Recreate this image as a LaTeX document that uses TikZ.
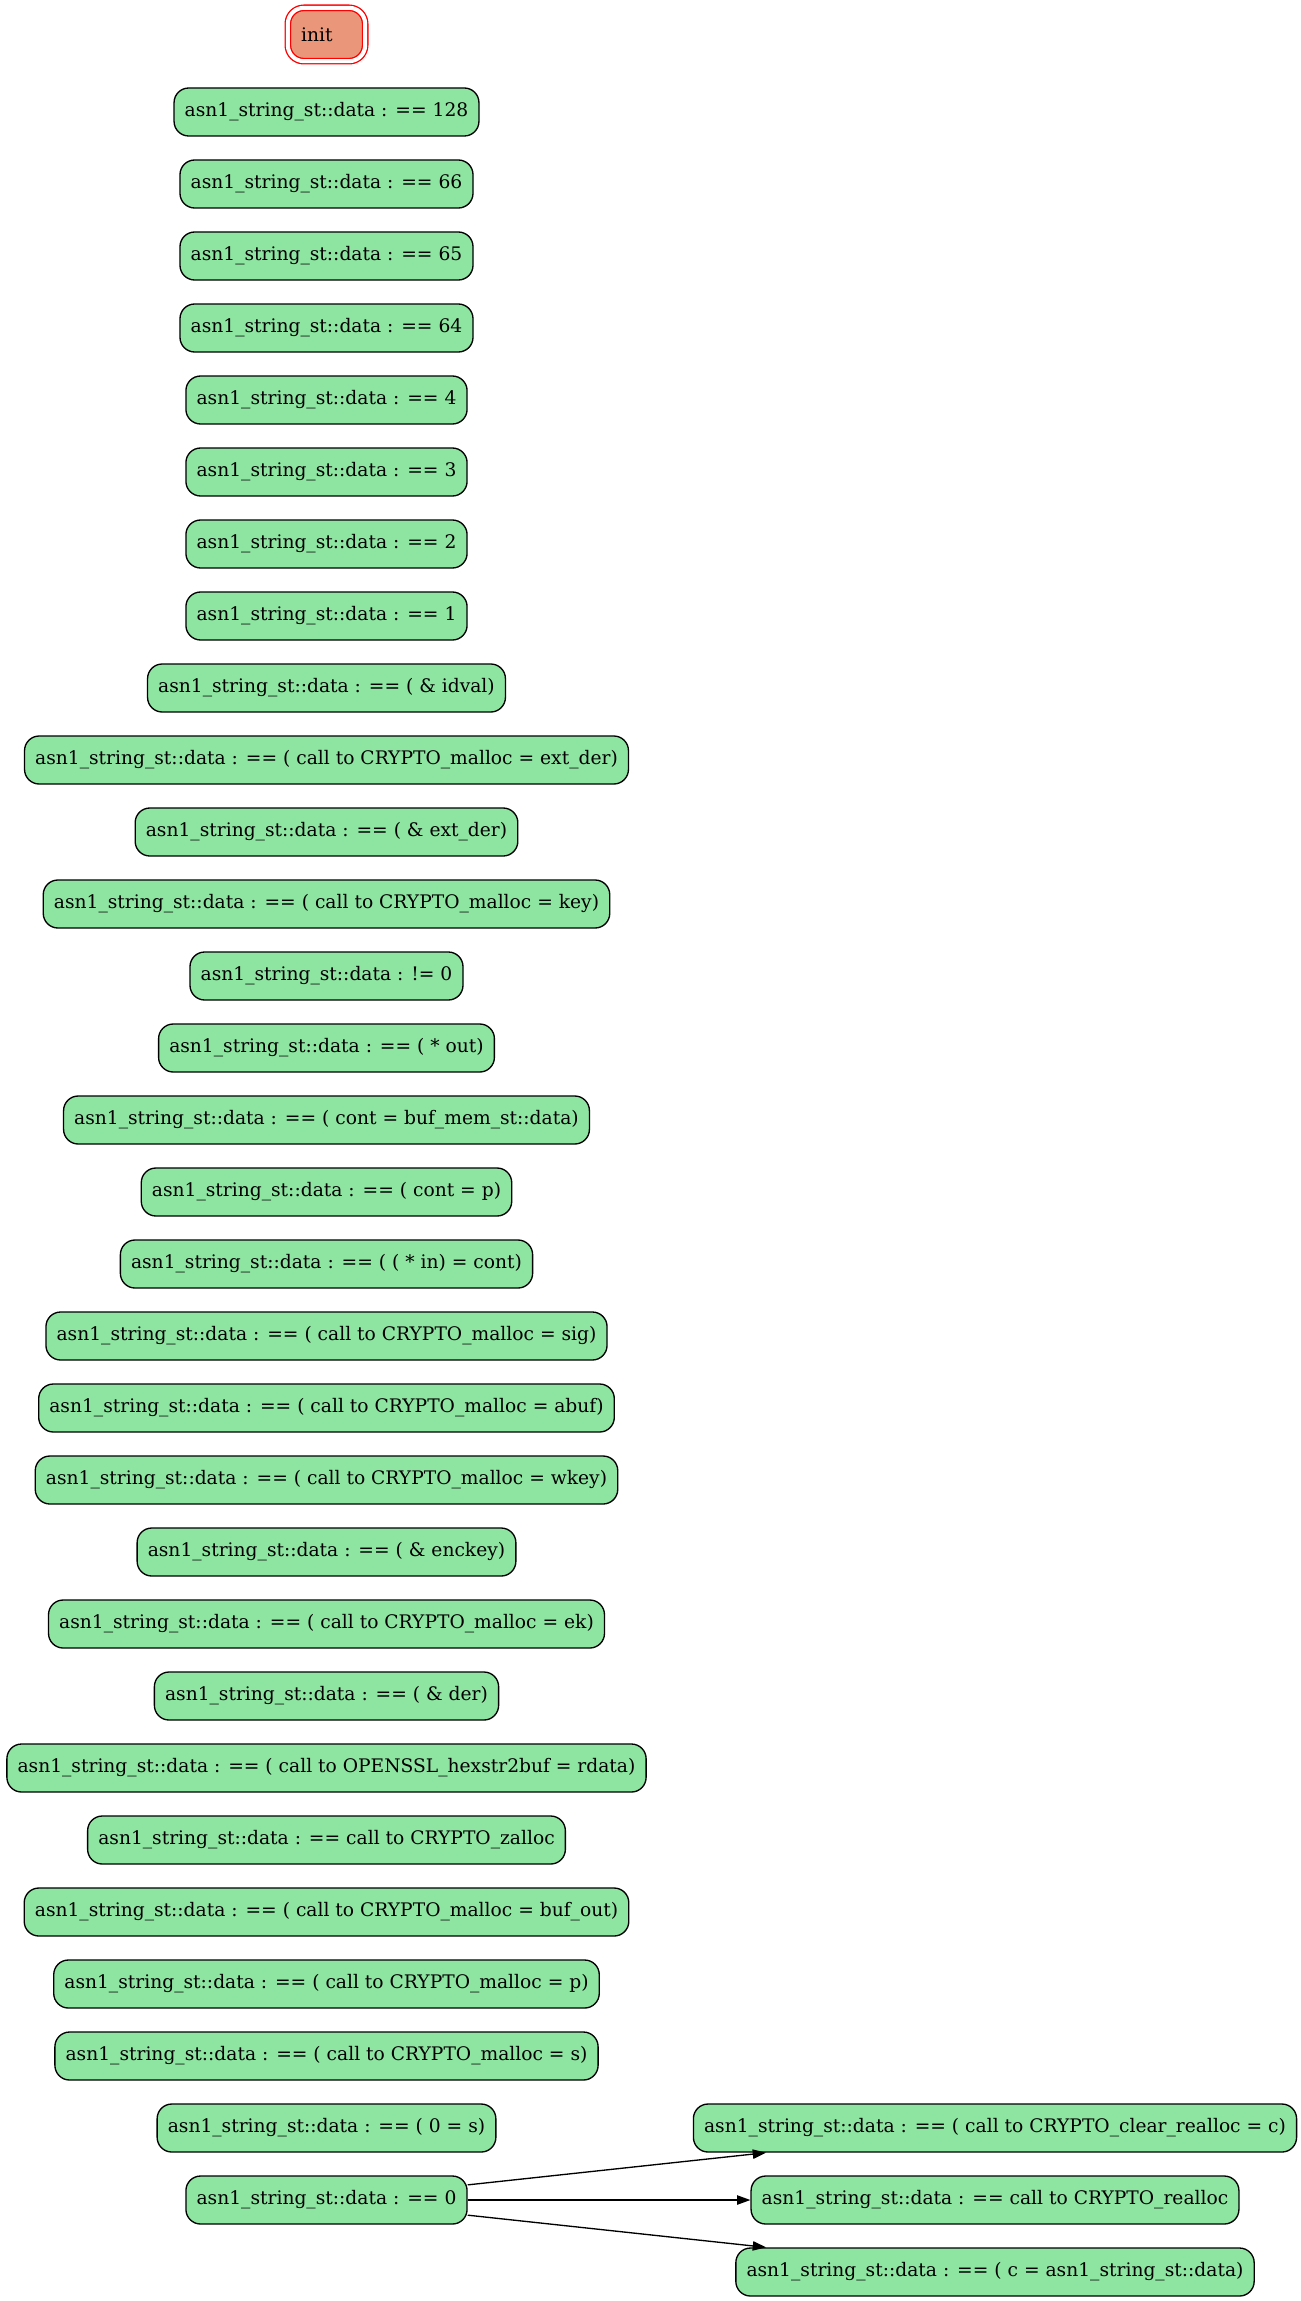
\documentclass[tikz,border=0pt]{standalone}
\usepackage{fontspec}
\setmainfont{DejaVu Serif}
\usetikzlibrary{arrows.meta}
\definecolor{nodegreen}{HTML}{8EE5A1}
\definecolor{initsalmon}{HTML}{E9967A}
\tikzset{
  stnode/.style={draw=black, line width=1pt, fill=nodegreen, rounded corners=11pt,
    minimum height=36pt, inner xsep=8pt, inner ysep=2pt,
    font=\fontsize{14pt}{17pt}\selectfont},
  initnode/.style={draw=red, line width=1pt, double=white, double distance=3pt,
    fill=initsalmon, rounded corners=12pt, minimum height=40pt, inner xsep=10pt,
    inner ysep=2pt, font=\fontsize{14pt}{17pt}\selectfont},
  edge/.style={draw=black, line width=1pt, -{Triangle[length=10pt,width=7pt]}}
}
\begin{document}
\begin{tikzpicture}[x=0.75pt,y=-0.75pt]
\useasboundingbox (0,0) rectangle (1300,2301);
\def\cx{326.5}
\def\rx{995}
\node[initnode] (init) at (\cx,34.5) {\makebox[38pt][l]{init}};
\node[stnode] (n1) at (\cx,112) {asn1\_string\_st::data : == 128};
\node[stnode] (n2) at (\cx,184) {asn1\_string\_st::data : == 66};
\node[stnode] (n3) at (\cx,256) {asn1\_string\_st::data : == 65};
\node[stnode] (n4) at (\cx,328) {asn1\_string\_st::data : == 64};
\node[stnode] (n5) at (\cx,400) {asn1\_string\_st::data : == 4};
\node[stnode] (n6) at (\cx,472) {asn1\_string\_st::data : == 3};
\node[stnode] (n7) at (\cx,544) {asn1\_string\_st::data : == 2};
\node[stnode] (n8) at (\cx,616) {asn1\_string\_st::data : == 1};
\node[stnode] (n9) at (\cx,688) {asn1\_string\_st::data : == ( \& idval)};
\node[stnode] (n10) at (\cx,760) {asn1\_string\_st::data : == ( call to CRYPTO\_malloc = ext\_der)};
\node[stnode] (n11) at (\cx,832) {asn1\_string\_st::data : == ( \& ext\_der)};
\node[stnode] (n12) at (\cx,904) {asn1\_string\_st::data : == ( call to CRYPTO\_malloc = key)};
\node[stnode] (n13) at (\cx,976) {asn1\_string\_st::data : != 0};
\node[stnode] (n14) at (\cx,1048) {asn1\_string\_st::data : == ( * out)};
\node[stnode] (n15) at (\cx,1120) {asn1\_string\_st::data : == ( cont = buf\_mem\_st::data)};
\node[stnode] (n16) at (\cx,1192) {asn1\_string\_st::data : == ( cont = p)};
\node[stnode] (n17) at (\cx,1264) {asn1\_string\_st::data : == ( ( * in) = cont)};
\node[stnode] (n18) at (\cx,1336) {asn1\_string\_st::data : == ( call to CRYPTO\_malloc = sig)};
\node[stnode] (n19) at (\cx,1408) {asn1\_string\_st::data : == ( call to CRYPTO\_malloc = abuf)};
\node[stnode] (n20) at (\cx,1480) {asn1\_string\_st::data : == ( call to CRYPTO\_malloc = wkey)};
\node[stnode] (n21) at (\cx,1552) {asn1\_string\_st::data : == ( \& enckey)};
\node[stnode] (n22) at (\cx,1624) {asn1\_string\_st::data : == ( call to CRYPTO\_malloc = ek)};
\node[stnode] (n23) at (\cx,1696) {asn1\_string\_st::data : == ( \& der)};
\node[stnode] (n24) at (\cx,1768) {asn1\_string\_st::data : == ( call to OPENSSL\_hexstr2buf = rdata)};
\node[stnode] (n25) at (\cx,1840) {asn1\_string\_st::data : == call to CRYPTO\_zalloc};
\node[stnode] (n26) at (\cx,1912) {asn1\_string\_st::data : == ( call to CRYPTO\_malloc = buf\_out)};
\node[stnode] (n27) at (\cx,1984) {asn1\_string\_st::data : == ( call to CRYPTO\_malloc = p)};
\node[stnode] (n28) at (\cx,2056) {asn1\_string\_st::data : == ( call to CRYPTO\_malloc = s)};
\node[stnode] (n29) at (\cx,2128) {asn1\_string\_st::data : == ( 0 = s)};
\node[stnode] (n30) at (\cx,2200) {asn1\_string\_st::data : == 0};
\node[stnode] (r1) at (\rx,2128) {asn1\_string\_st::data : == ( call to CRYPTO\_clear\_realloc = c)};
\node[stnode] (r2) at (\rx,2200) {asn1\_string\_st::data : == call to CRYPTO\_realloc};
\node[stnode] (r3) at (\rx,2272) {asn1\_string\_st::data : == ( c = asn1\_string\_st::data)};
\draw[edge] (n30) -- (r1);
\draw[edge] (n30) -- (r2);
\draw[edge] (n30) -- (r3);
\end{tikzpicture}
\end{document}
